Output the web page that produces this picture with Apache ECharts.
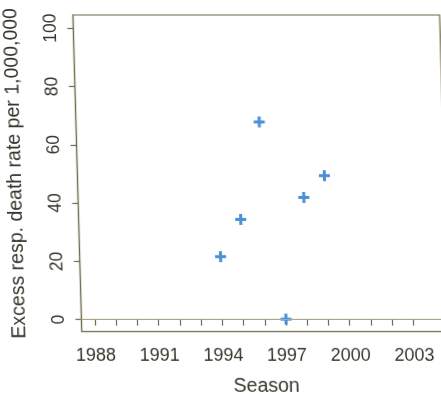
<!DOCTYPE html>
<html>
<head>
<meta charset="utf-8">
<script src="https://cdn.jsdelivr.net/npm/echarts@6/dist/echarts.min.js"></script>
<style>
html,body{margin:0;padding:0;background:#fff;overflow:hidden;width:441px;height:401px;}
#wrap{width:441px;height:401px;transform:skewX(1.6deg);transform-origin:0 0;}
#chart{width:441px;height:401px;}
</style>
</head>
<body>
<div id="wrap"><div id="chart"></div></div>
<script>
const seasons = [1994, 1995, 1996, 1997, 1998, 1999];
const excessRate = [21.6, 34.4, 67.8, 0.2, 41.9, 49.4];
const xTicks = [1988,1989,1990,1991,1992,1993,1994,1995,1996,1997,1998,1999,2000,2001,2002,2003];
const xTickLabels = [1988, 1991, 1994, 1997, 2000, 2003];
const yTickLabels = [0, 20, 40, 60, 80, 100];

const axisColor = '#6e6b45';
const textColor = '#36352c';
const font = 'Liberation Sans, Arial, sans-serif';

const chart = echarts.init(document.getElementById('chart'), null, {renderer: 'canvas'});
chart.setOption({
  backgroundColor: '#ffffff',
  animation: false,
  grid: {left: 72.5, right: 1.8, top: 15, bottom: 69.3, containLabel: false, outerBoundsMode: 'none',
         show: true, borderColor: axisColor, borderWidth: 1.2, backgroundColor: 'transparent'},
  xAxis: {
    type: 'value', min: 1987.36, max: 2004.64,
    name: 'Season', nameLocation: 'middle', nameGap: 45,
    nameTextStyle: {fontFamily: font, fontSize: 19.5, color: textColor},
    axisLine: {show: true, lineStyle: {color: axisColor, width: 1.2}},
    axisTick: {show: true, length: 6, customValues: xTicks, lineStyle: {color: axisColor, width: 1.2}},
    axisLabel: {customValues: xTickLabels, margin: 15, fontFamily: font, fontSize: 18, color: textColor, formatter: v => String(v)},
    splitLine: {show: false}
  },
  yAxis: {
    type: 'value', min: -4.1, max: 104.5,
    name: 'Excess resp. death rate per 1,000,000', nameLocation: 'middle', nameGap: 52,
    nameTextStyle: {fontFamily: font, fontSize: 19.5, color: textColor},
    axisLine: {show: true, lineStyle: {color: axisColor, width: 1.2}},
    axisTick: {show: true, length: 6, customValues: yTickLabels, lineStyle: {color: axisColor, width: 1.2}},
    axisLabel: {customValues: yTickLabels, rotate: 90, margin: 13, fontFamily: font, fontSize: 17.5, color: textColor},
    splitLine: {show: false}
  },
  series: [{
    type: 'scatter',
    data: seasons.map((s, i) => [s, excessRate[i]]),
    symbol: 'path://M4,0H7V4H11V7H7V11H4V7H0V4H4Z',
    symbolSize: 11,
    itemStyle: {color: '#4a8fd6', opacity: 1},
    markLine: {
      silent: true, symbol: 'none', label: {show: false},
      lineStyle: {type: 'dotted', color: '#d3cc9e', width: 1},
      data: [{yAxis: 0}]
    }
  }]
});
</script>
</body>
</html>
